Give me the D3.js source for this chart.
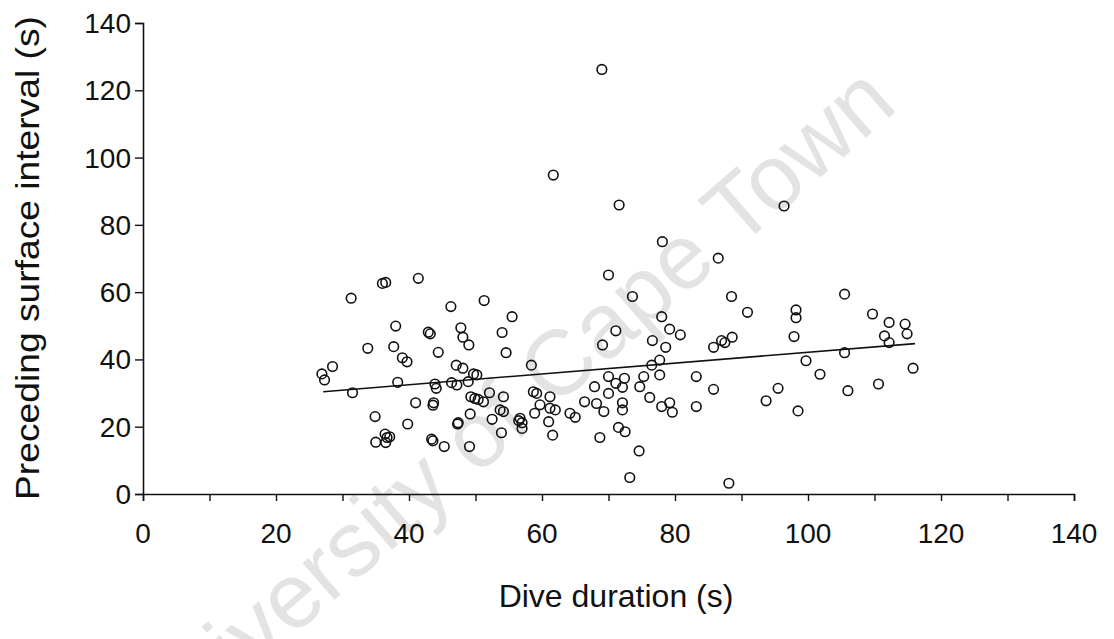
<!DOCTYPE html>
<html>
<head>
<meta charset="utf-8">
<script src="https://cdn.jsdelivr.net/npm/d3@7/dist/d3.min.js"></script>
<style>
  html, body { margin: 0; padding: 0; background: #fff; }
  svg { display: block; }
  text { font-family: "Liberation Sans", Arial, sans-serif; fill: #111; }
</style>
</head>
<body>
<svg id="chart" width="1114" height="639"></svg>
<script>
// Dive duration (s) vs preceding surface interval (s)
const diveDuration = [
  31.3, 36.0, 36.5, 41.4, 46.3, 51.3, 55.5,
  38.0, 42.9, 43.2, 47.8, 48.1, 49.0, 54.0, 54.6,
  33.8, 37.7, 39.0, 39.7, 44.4,
  28.5, 26.9, 27.3, 31.5, 38.3, 43.9, 44.1,
  47.1, 48.1, 46.4, 47.2, 48.9, 49.7, 50.2,
  58.4, 52.1, 54.2, 49.3, 49.9, 50.4, 51.2,
  41.0, 43.7, 43.6, 34.9, 39.8, 47.4, 47.3, 49.2, 52.5, 53.7, 54.2, 56.7, 56.5, 57.0, 57.0, 53.9,
  35.0, 36.4, 36.7, 36.5, 37.1, 43.4, 43.6, 45.3, 49.1,
  86.5, 70.0, 73.6, 88.5, 90.9, 78.0, 79.2, 80.8, 71.1, 69.1, 76.6, 78.6, 85.8, 87.0, 87.5, 88.6,
  77.7, 76.5, 77.7, 75.3, 83.2, 74.7, 72.4, 72.1, 71.1, 70.0, 67.9, 70.0, 66.4, 68.2, 69.3,
  72.1, 72.1, 76.2, 78.0, 79.2, 79.6, 83.2, 85.8, 93.7, 95.5, 71.5, 72.5, 68.7, 74.6, 73.2, 88.1,
  58.7, 59.2, 61.2, 59.7, 58.9, 61.2, 62.0, 61.0, 61.6, 64.2, 65.0,
  96.4, 105.5, 98.2, 98.2, 97.9, 109.7, 112.2, 114.6, 114.9, 111.5, 112.2, 105.5, 99.7, 101.8,
  106.0, 110.6, 115.8, 98.5,
  69.0, 71.6, 78.1, 61.7
];
const surfaceInterval = [
  58.2, 62.6, 62.9, 64.1, 55.7, 57.5, 52.7,
  49.9, 48.1, 47.6, 49.4, 46.6, 44.3, 48.0, 42.0,
  43.3, 43.8, 40.5, 39.3, 42.1,
  37.9, 35.7, 33.9, 30.1, 33.2, 32.7, 31.4,
  38.3, 37.4, 33.1, 32.4, 33.4, 35.7, 35.4,
  38.3, 30.1, 28.9, 28.9, 28.4, 28.1, 27.4,
  27.1, 27.1, 26.4, 23.0, 20.8, 21.2, 20.8, 23.8, 22.2, 25.0, 24.5, 22.5, 21.8, 21.2, 19.5, 18.2,
  15.4, 17.8, 16.8, 15.3, 17.0, 16.3, 15.8, 14.1, 14.1,
  70.1, 65.1, 58.7, 58.7, 54.0, 52.7, 49.0, 47.3, 48.5, 44.3, 45.6, 43.6, 43.6, 45.6, 45.0, 46.6,
  39.8, 38.3, 35.4, 34.9, 34.9, 31.9, 34.4, 31.7, 32.9, 34.9, 31.9, 29.9, 27.4, 26.9, 24.5,
  27.1, 25.0, 28.7, 26.0, 27.1, 24.3, 26.0, 31.1, 27.7, 31.4, 19.8, 18.5, 16.8, 12.8, 4.9, 3.2,
  30.4, 29.9, 28.9, 26.5, 24.0, 25.5, 25.0, 21.5, 17.5, 24.0, 22.8,
  85.6, 59.4, 54.7, 52.4, 46.8, 53.5, 51.0, 50.5, 47.6, 47.0, 45.0, 42.0, 39.6, 35.6,
  30.7, 32.7, 37.4, 24.7,
  126.2, 85.9, 75.0, 94.8
];
// fitted regression line end points
const trendX = [27.1, 116.1];
const trendY = [30.4, 44.7];

const xTicks = [0, 20, 40, 60, 80, 100, 120, 140];
const xMinorTicks = d3.range(0, 141, 10);
const yTicks = [0, 20, 40, 60, 80, 100, 120, 140];

const svg = d3.select("#chart");
const W = 1114, H = 639;
const plotLeft = 143, plotRight = 1074, plotTop = 23, plotBottom = 494;

svg.append("rect").attr("width", W).attr("height", H).attr("fill", "#fff");

// watermark
svg.append("text")
  .attr("transform", "translate(510,415) rotate(-41)")
  .attr("text-anchor", "middle")
  .attr("dominant-baseline", "middle")
  .style("font-size", "92px")
  .style("fill", "#e3e3e3")
  .text("University of Cape Town");

const x = d3.scaleLinear().domain([0, 140]).range([plotLeft, plotRight]);
const y = d3.scaleLinear().domain([0, 140]).range([plotBottom, plotTop]);

// x axis: ticks every 10, labels every 20
const xAxis = svg.append("g").attr("transform", `translate(0,${plotBottom})`)
  .call(d3.axisBottom(x).tickValues(xMinorTicks).tickSize(7).tickFormat(""));
xAxis.select(".domain").attr("stroke", "#111").attr("stroke-width", 1.6);
xAxis.selectAll(".tick line").attr("stroke", "#111").attr("stroke-width", 1.4);

svg.append("g").selectAll("text").data(xTicks).join("text")
  .attr("x", d => x(d))
  .attr("y", plotBottom + 49)
  .attr("text-anchor", "middle")
  .style("font-size", "28px")
  .text(d => d);

const yAxis = svg.append("g").attr("transform", `translate(${plotLeft},0)`)
  .call(d3.axisLeft(y).tickValues(yTicks).tickSize(8).tickFormat(""));
yAxis.select(".domain").attr("stroke", "#111").attr("stroke-width", 1.6);
yAxis.selectAll(".tick line").attr("stroke", "#111").attr("stroke-width", 1.4);

svg.append("g").selectAll("text").data(yTicks).join("text")
  .attr("x", plotLeft - 12)
  .attr("y", d => y(d) + 10)
  .attr("text-anchor", "end")
  .style("font-size", "28px")
  .text(d => d);

// axis titles
svg.append("text")
  .attr("x", 616).attr("y", 607)
  .attr("text-anchor", "middle")
  .style("font-size", "32px")
  .text("Dive duration (s)");

svg.append("text")
  .attr("transform", "translate(39,258) rotate(-90)")
  .attr("text-anchor", "middle")
  .attr("textLength", 484)
  .attr("lengthAdjust", "spacingAndGlyphs")
  .style("font-size", "33px")
  .text("Preceding surface interval (s)");

// regression line
svg.append("line")
  .attr("x1", x(trendX[0])).attr("y1", y(trendY[0]))
  .attr("x2", x(trendX[1])).attr("y2", y(trendY[1]))
  .attr("stroke", "#111").attr("stroke-width", 1.6);

// points
svg.append("g").selectAll("circle").data(diveDuration).join("circle")
  .attr("cx", d => x(d))
  .attr("cy", (d, i) => y(surfaceInterval[i]))
  .attr("r", 4.8)
  .attr("fill", "none")
  .attr("stroke", "#111")
  .attr("stroke-width", 1.6);
</script>
</body>
</html>
